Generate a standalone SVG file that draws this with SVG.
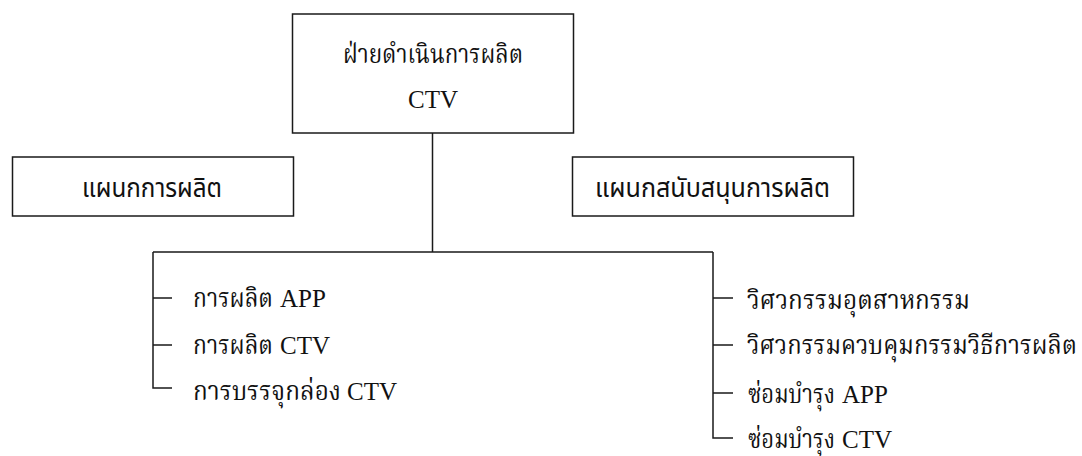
<svg xmlns="http://www.w3.org/2000/svg" width="1082" height="456" viewBox="0 0 1082 456">
<style>
.box{fill:#fff;stroke:#1a1a1a;stroke-width:1.5}
.ln{stroke:#1a1a1a;stroke-width:1.5;fill:none}
.t{font-family:"Liberation Serif","Noto Serif Thai","Noto Sans Thai",serif;font-size:25px;fill:#111}
.th{font-family:"Noto Serif Thai","Noto Sans Thai","Liberation Serif",serif;font-size:26px}
.ts{font-family:"Noto Sans Thai","Liberation Sans","Noto Sans",sans-serif;font-size:27px;fill:#111}
</style>
<rect width="1082" height="456" fill="#fff"/>
<g id="connectors">
<path class="ln" d="M432.5 133V252M153 252H713"/>
<path class="ln" d="M153 252V388H172M153 298H172M153 345H172"/>
<path class="ln" d="M713 252V438H733M713 298H733M713 345H733M713 393H733"/>
</g>
<g id="top">
<rect class="box" x="292.5" y="14" width="281" height="119"/>
<text class="t" x="343" y="63"><tspan class="th" textLength="180" lengthAdjust="spacingAndGlyphs">ฝ่ายดำเนินการผลิต</tspan></text>
<text class="t" x="433" y="108" text-anchor="middle">CTV</text>
</g>
<g id="dept-production">
<rect class="box" x="12.5" y="157" width="281" height="59"/>
<text class="ts" x="82" y="197" textLength="140" lengthAdjust="spacingAndGlyphs">แผนกการผลิต</text>
</g>
<g id="dept-support">
<rect class="box" x="572.5" y="157" width="281" height="59"/>
<text class="ts" x="595" y="197" textLength="235" lengthAdjust="spacingAndGlyphs">แผนกสนับสนุนการผลิต</text>
</g>
<g id="left-items">
<text class="t" x="193" y="307"><tspan class="th" textLength="80" lengthAdjust="spacingAndGlyphs">การผลิต</tspan> <tspan x="280">APP</tspan></text>
<text class="t" x="193" y="354"><tspan class="th" textLength="80" lengthAdjust="spacingAndGlyphs">การผลิต</tspan> <tspan x="280">CTV</tspan></text>
<text class="t" x="193" y="400"><tspan class="th" textLength="148" lengthAdjust="spacingAndGlyphs">การบรรจุกล่อง</tspan> <tspan x="347">CTV</tspan></text>
</g>
<g id="right-items">
<text class="t" x="747" y="309"><tspan class="th" textLength="223" lengthAdjust="spacingAndGlyphs">วิศวกรรมอุตสาหกรรม</tspan></text>
<text class="t" x="747" y="354"><tspan class="th" textLength="330" lengthAdjust="spacingAndGlyphs">วิศวกรรมควบคุมกรรมวิธีการผลิต</tspan></text>
<text class="t" x="748" y="403"><tspan class="th" textLength="87" lengthAdjust="spacingAndGlyphs">ซ่อมบำรุง</tspan> <tspan x="842">APP</tspan></text>
<text class="t" x="748" y="448"><tspan class="th" textLength="87" lengthAdjust="spacingAndGlyphs">ซ่อมบำรุง</tspan> <tspan x="842">CTV</tspan></text>
</g>
</svg>
